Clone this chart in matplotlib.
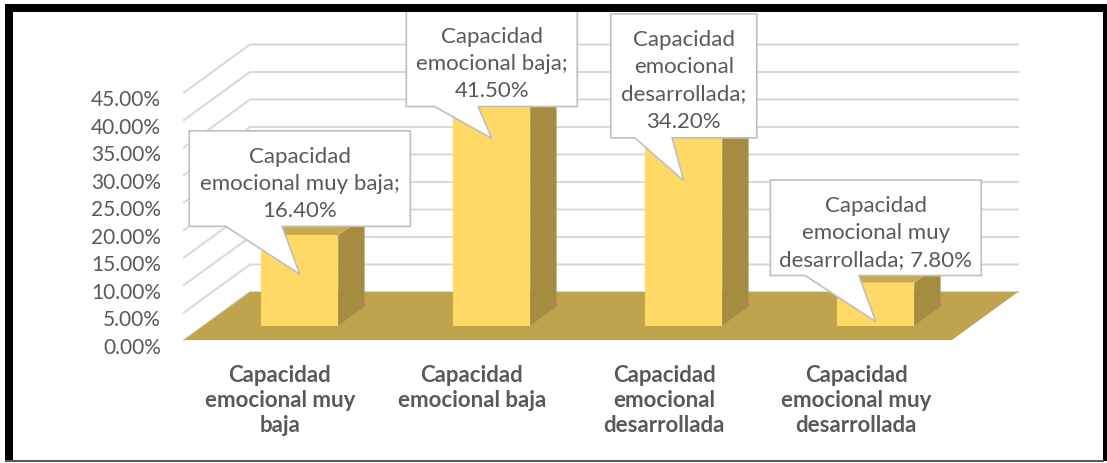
import matplotlib
matplotlib.use('Agg')
from matplotlib import pyplot as plt
from matplotlib.patches import Polygon, Rectangle

plt.rcParams['font.family'] = ['Lato', 'DejaVu Sans']

# data
categories = ['Capacidad\nemocional muy\nbaja', 'Capacidad\nemocional baja',
              'Capacidad\nemocional\ndesarrollada', 'Capacidad\nemocional muy\ndesarrollada']
values = [16.4, 41.5, 34.2, 7.8]
callout_texts = ['Capacidad\nemocional muy baja;\n16.40%', 'Capacidad\nemocional baja;\n41.50%',
                 'Capacidad\nemocional\ndesarrollada;\n34.20%', 'Capacidad\nemocional muy\ndesarrollada; 7.80%']
yticks = [0, 5, 10, 15, 20, 25, 30, 35, 40, 45]

# layout of the callouts (tip height as part of the bar, gap to the box, box width in px)
tip_frac = [0.57, 0.82, 0.77, 0.09]
box_gap = [8.7, 5.8, 7.8, 8.4]
box_w = [221, 171, 146, 211]

W, H = 1107, 464
PX_X = 192.0   # pixels per category
PX_Y = 5.5     # pixels per percent
DX = 66 / PX_X  # oblique depth offset
DY = 48 / PX_Y

FRONT = '#FFD966'
SIDE = '#A68C40'
TOP = '#C8A94F'
FLOOR = '#BFA34D'
GRID = '#D9D9D9'
TXT = '#595959'


def proj(x, v, d):
    return (x + d * DX, v + d * DY)


fig = plt.figure(figsize=(W / 100, H / 100), dpi=100)
ax = fig.add_axes([0, 0, 1, 1])
ax.set_xlim(-280 / PX_X, (W - 280) / PX_X)
ax.set_ylim(-(H - 341) / PX_Y, 341 / PX_Y)
ax.axis('off')

x_lo, x_hi = -0.5, len(values) - 0.5

# gridlines on side and back walls
for v in yticks:
    pts = [proj(x_lo, v, 0), proj(x_lo, v, 1), proj(x_hi, v, 1)]
    ax.plot([p[0] for p in pts], [p[1] for p in pts], color=GRID, lw=1.5, zorder=1)
    ax.text(x_lo - 0.12, v - 1.2, '{:.2f}%'.format(v), ha='right', va='center',
            fontsize=15, color=TXT)

# floor
floor = [proj(x_lo, 0, 0), proj(x_hi, 0, 0), proj(x_hi, 0, 1), proj(x_lo, 0, 1)]
ax.add_patch(Polygon(floor, closed=True, fc=FLOOR, ec='none', zorder=2))

# bars
bw = 0.2
d0, d1 = 0.3, 0.7
for i, val in enumerate(values):
    l, r = i - bw, i + bw
    front = [proj(l, 0, d0), proj(r, 0, d0), proj(r, val, d0), proj(l, val, d0)]
    side = [proj(r, 0, d0), proj(r, 0, d1), proj(r, val, d1), proj(r, val, d0)]
    top = [proj(l, val, d0), proj(r, val, d0), proj(r, val, d1), proj(l, val, d1)]
    ax.add_patch(Polygon(side, closed=True, fc=SIDE, ec='none', zorder=3))
    ax.add_patch(Polygon(top, closed=True, fc=TOP, ec='none', zorder=3))
    ax.add_patch(Polygon(front, closed=True, fc=FRONT, ec='none', zorder=4))

    # category label
    ax.text(i, -4.3, categories[i], ha='center', va='top', fontsize=16,
            fontweight='bold', color=TXT, linespacing=1.25)

    # callout
    tx, ty = proj(i, tip_frac[i] * val, d0)
    nlines = callout_texts[i].count('\n') + 1
    bh = (nlines * 28.5 + 10) / PX_Y
    hw = box_w[i] / 2 / PX_X
    bb = ty + box_gap[i]
    bt = bb + bh
    bl, br = tx - hw, tx + hw
    wbox = 2 * hw
    shape = [(bl, bb), (bl + 0.165 * wbox, bb), (tx, ty), (bl + 0.42 * wbox, bb),
             (br, bb), (br, bt), (bl, bt)]
    ax.add_patch(Polygon(shape, closed=True, fc='white', ec='#BFBFBF', lw=1.2, zorder=6))
    ax.text(tx, (bb + bt) / 2 - 0.75, callout_texts[i], ha='center', va='center',
            fontsize=16, color=TXT, linespacing=1.45, zorder=7)

# frame
def px_rect(x0, y0, x1, y1, color):
    fig.add_artist(Rectangle((x0 / W, 1 - y1 / H), (x1 - x0) / W, (y1 - y0) / H,
                             transform=fig.transFigure, fc=color, ec='none', zorder=10))

px_rect(0, 0, W, 5, 'white')
px_rect(0, 0, 5, H, 'white')
px_rect(5, 5, W, 13, 'black')
px_rect(5, 5, 13, 462, 'black')
px_rect(1103, 5, W, 462, 'black')
px_rect(5, 461, 1104, 463, '#595959')

fig.savefig('out.png', dpi=100)
